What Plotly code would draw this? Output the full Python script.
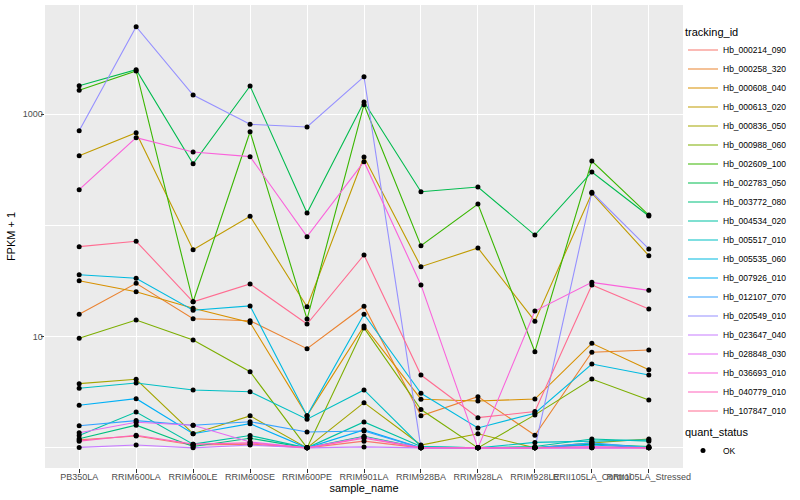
import plotly.graph_objects as go

samples = ["PB350LA", "RRIM600LA", "RRIM600LE", "RRIM600SE", "RRIM600PE", "RRIM901LA",
           "RRIM928BA", "RRIM928LA", "RRIM928LE", "RRII105LA_Control", "RRII105LA_Stressed"]

# FPKM + 1 values
hb_000214_090 = [1.18, 1.28, 1.06, 1.08, 1.0, 1.15, 1.0, 1.0, 1.0, 1.0, 1.0]
hb_000258_320 = [15.9, 30.2, 14.5, 13.9, 7.8, 18.8, 1.94, 2.89, 1.30, 7.24, 7.59]
hb_000608_040 = [31.9, 25.4, 18.0, 13.4, 1.95, 12.5, 2.74, 2.64, 2.75, 8.72, 5.05]
hb_000613_020 = [424, 683, 60.6, 121, 18.6, 413, 42.6, 62.8, 13.8, 195, 53.5]
hb_000836_050 = [3.78, 4.14, 1.34, 1.94, 1.0, 2.55, 1.06, 1.34, 1.0, 1.11, 1.20]
hb_000988_060 = [9.67, 14.1, 9.34, 4.84, 1.0, 12.0, 2.21, 1.0, 1.98, 4.16, 2.70]
hb_002609_100 = [1644, 2452, 20.6, 697, 14.4, 1220, 65.8, 156, 7.33, 380, 124]
hb_002783_050 = [1808, 2518, 359, 1797, 129.5, 1290, 201, 222, 82, 303, 121.7]
hb_003772_080 = [1.21, 1.60, 1.03, 1.22, 1.0, 1.27, 1.0, 1.0, 1.0, 1.08, 1.03]
hb_004534_020 = [1.29, 2.10, 1.08, 1.29, 1.0, 1.71, 1.03, 1.0, 1.03, 1.20, 1.15]
hb_005517_010 = [3.44, 3.83, 3.32, 3.20, 1.81, 3.32, 1.03, 1.0, 1.12, 1.15, 1.18]
hb_005535_060 = [36.1, 33.5, 17.3, 18.9, 1.95, 15.9, 3.10, 1.51, 2.05, 5.68, 4.52]
hb_007926_010 = [2.42, 2.77, 1.34, 1.65, 1.0, 1.45, 1.0, 1.0, 1.0, 1.06, 1.0]
hb_012107_070 = [1.58, 1.76, 1.60, 1.72, 1.39, 1.42, 1.0, 1.0, 1.0, 1.11, 1.0]
hb_020549_010 = [712, 6140, 1491, 813, 769, 2178, 1.0, 1.0, 1.0, 199, 61.5]
hb_023647_040 = [1.01, 1.06, 1.0, 1.06, 1.0, 1.02, 1.0, 1.0, 1.0, 1.0, 1.0]
hb_028848_030 = [1.37, 1.70, 1.60, 1.13, 1.0, 1.25, 1.0, 1.0, 1.0, 1.0, 1.0]
hb_036693_010 = [210, 616, 458, 416, 79.3, 375, 29.2, 1.0, 17.0, 30.8, 26.1]
hb_040779_010 = [1.15, 1.30, 1.08, 1.11, 1.0, 1.22, 1.0, 1.0, 1.0, 1.03, 1.0]
hb_107847_010 = [64.5, 72.1, 20.6, 29.8, 13.0, 54.3, 4.52, 1.87, 2.12, 29.2, 17.7]

tracking_ids = ["Hb_000214_090", "Hb_000258_320", "Hb_000608_040", "Hb_000613_020",
                "Hb_000836_050", "Hb_000988_060", "Hb_002609_100", "Hb_002783_050",
                "Hb_003772_080", "Hb_004534_020", "Hb_005517_010", "Hb_005535_060",
                "Hb_007926_010", "Hb_012107_070", "Hb_020549_010", "Hb_023647_040",
                "Hb_028848_030", "Hb_036693_010", "Hb_040779_010", "Hb_107847_010"]
series_values = [hb_000214_090, hb_000258_320, hb_000608_040, hb_000613_020,
                 hb_000836_050, hb_000988_060, hb_002609_100, hb_002783_050,
                 hb_003772_080, hb_004534_020, hb_005517_010, hb_005535_060,
                 hb_007926_010, hb_012107_070, hb_020549_010, hb_023647_040,
                 hb_028848_030, hb_036693_010, hb_040779_010, hb_107847_010]
colors = ["#F8766D", "#EA8331", "#D89000", "#C09B00", "#A3A500", "#7CAE00", "#39B600",
          "#00BB4E", "#00BF7D", "#00C1A3", "#00BFC4", "#00BAE0", "#00B0F6", "#35A2FF",
          "#9590FF", "#C77CFF", "#E76BF3", "#FA62DB", "#FF62BC", "#FF6C91"]
y_tick_vals = [10, 1000]
y_tick_text = ["10", "1000"]
y_minor_vals = [1, 100, 10000]

FONT = "Liberation Sans, Arial, Helvetica, sans-serif"

fig = go.Figure()
for name, vals, col in zip(tracking_ids, series_values, colors):
    fig.add_trace(go.Scatter(x=samples, y=vals, mode="lines", name=name,
                             line=dict(color=col, width=1.1), legend="legend"))

all_x = [s for vals in series_values for s in samples]
all_y = [v for vals in series_values for v in vals]
fig.add_trace(go.Scatter(x=all_x, y=all_y, mode="markers", name="OK",
                         marker=dict(color="black", size=5, symbol="circle"),
                         legend="legend2"))

fig.update_layout(
    width=800, height=500,
    margin=dict(l=45, r=117, t=5, b=32, autoexpand=False),
    paper_bgcolor="white", plot_bgcolor="#EBEBEB",
    font=dict(family=FONT, color="black"),
    showlegend=True,
    legend=dict(title=dict(text="tracking_id", font=dict(size=11)),
                font=dict(size=8.5), x=1.0, xanchor="left", y=0.965, yanchor="top",
                bgcolor="white", itemwidth=30, tracegroupgap=0),
    legend2=dict(title=dict(text="quant_status", font=dict(size=11)),
                 font=dict(size=8.5), x=1.0, xanchor="left", y=0.1, yanchor="top",
                 bgcolor="white", itemwidth=30),
)
fig.update_xaxes(type="category", categoryorder="array", categoryarray=samples,
                 range=[-0.6, 10.6], showgrid=True, gridcolor="white", gridwidth=1.1,
                 ticks="outside", ticklen=3.5, tickcolor="#333333", tickwidth=1,
                 tickfont=dict(size=9, color="#4D4D4D"), tickangle=0, zeroline=False,
                 showline=False, automargin=False, ticklabelstandoff=-3,
                 title=dict(text="sample_name", font=dict(size=11), standoff=2))
fig.update_yaxes(type="log", range=[-0.181, 3.983], tickmode="array",
                 tickvals=y_tick_vals, ticktext=y_tick_text,
                 showgrid=True, gridcolor="white", gridwidth=1.1,
                 minor=dict(tickmode="array", tickvals=y_minor_vals, showgrid=True,
                            gridcolor="white", gridwidth=0.5, ticks=""),
                 ticks="outside", ticklen=3.5, tickcolor="#333333", tickwidth=1,
                 tickfont=dict(size=9, color="#4D4D4D"), zeroline=False, showline=False,
                 automargin=False, ticklabelstandoff=-4,
                 title=dict(text="FPKM + 1", font=dict(size=11), standoff=4))

fig.write_html("out.html",
               config={"displayModeBar": False},
               post_script="document.body.style.margin='0px';"
                           "document.body.style.padding='0px';"
                           "document.documentElement.style.overflow='hidden';")
